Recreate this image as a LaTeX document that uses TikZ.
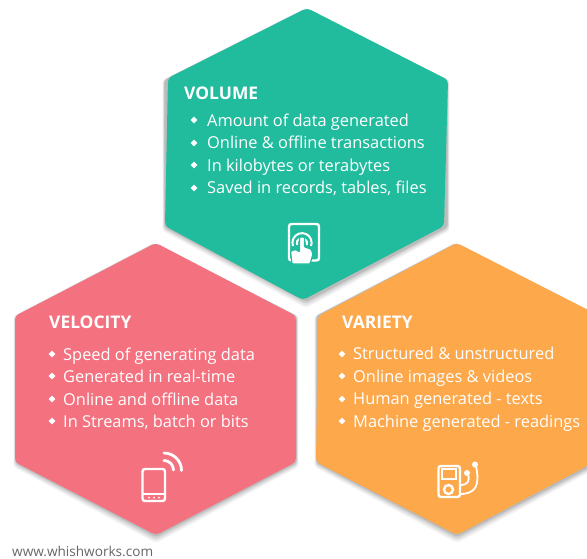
\documentclass[tikz,border=0pt]{standalone}
\usepackage{fontspec}
\setmainfont{Open Sans}
\begin{document}
\begin{tikzpicture}[x=1pt,y=-1pt,
  hexfill/.style={rounded corners=4pt,line width=0pt},
  head/.style={anchor=base west,inner sep=0pt,text=white,font=\fontsize{17.4}{19}\selectfont\bfseries},
  item/.style={anchor=base west,inner sep=0pt,text=white,font=\fontsize{16.4}{18}\selectfont},
  web/.style={anchor=base west,inner sep=0pt,text=black!60,font=\fontsize{13.6}{15}\selectfont},
  bul/.style={fill=white,draw=none},
  ico/.style={draw=white,line width=2.4pt,fill=none},
  icof/.style={fill=white,draw=none}]
\useasboundingbox (0,0) rectangle (587,558);
\fill[white] (0,0) rectangle (587,558);
\newcommand{\hexshadow}[6]{%
  \foreach \d/\o in {8/0.05,6/0.06,4/0.08,2/0.10}{
    \fill[black,opacity=\o,rounded corners=3pt] (#1-\d*0.3,#2) -- (#3+\d*0.3,#4) -- (#3+\d*0.3,#5+\d*0.6) -- (#1,#6+\d) -- (2*#1-#3-\d*0.3,#5+\d*0.6) -- (2*#1-#3-\d*0.3,#4) -- cycle;
  }}
\newcommand{\bl}[2]{\fill[bul] (#1-3.4,#2) -- (#1,#2-3.4) -- (#1+3.4,#2) -- (#1,#2+3.4) -- cycle;}
% shadows
\hexshadow{306}{9}{447}{80}{226}{300}
\hexshadow{156}{243}{296}{316}{462}{535}
\hexshadow{457}{243}{597}{316}{462}{535}
% hexagons
\fill[hexfill,fill={rgb,255:red,244;green,114;blue,128}] (156,243) -- (296,316) -- (296,462) -- (156,535) -- (15,462) -- (15,316) -- cycle;
\fill[hexfill,fill={rgb,255:red,252;green,168;blue,75}] (457,243) -- (600,316) -- (600,456) -- (587,466) -- (457,535) -- (316,462) -- (318,316) -- cycle;
\fill[hexfill,fill={rgb,255:red,33;green,188;blue,158}] (307,8) -- (448,80) -- (444,226) -- (303,300) -- (165,226) -- (168,78) -- cycle;
% volume
\node[head] (volh) at (184,99) {VOLUME};
\node[item] (v1) at (207,126) {Amount of data generated};
\node[item] (v2) at (207,148.5) {Online \& offline transactions};
\node[item] (v3) at (207,171) {In kilobytes or terabytes};
\node[item] (v4) at (207,193.5) {Saved in records, tables, files};
\bl{194}{120}\bl{194}{143}\bl{194}{165}\bl{194}{188}
% velocity
\node[head] (velh) at (49,328) {VELOCITY};
\node[item] (a1) at (63,360) {Speed of generating data};
\node[item] (a2) at (63,382.5) {Generated in real-time};
\node[item] (a3) at (63,405) {Online and offline data};
\node[item] (a4) at (63,427.5) {In Streams, batch or bits};
\bl{52}{354}\bl{52}{376}\bl{52}{399}\bl{52}{421}
% variety
\node[head] (varh) at (342,328) {VARIETY};
\node[item] (b1) at (353,359.5) {Structured \& unstructured};
\node[item] (b2) at (353,382) {Online images \& videos};
\node[item] (b3) at (353,404.5) {Human generated - texts};
\node[item] (b4) at (353,427) {Machine generated - readings};
\bl{342}{354}\bl{342}{376}\bl{342}{399}\bl{342}{421}
% footer
\node[web] (web) at (12,556) {www.whishworks.com};
% touch icon
\draw[ico,rounded corners=2.5pt] (289,224) -- (319,224) -- (319,260.5) -- (289,260.5) -- cycle;
\draw[ico,line width=2pt] (297,245) arc (160:380:5.2);
\draw[ico,line width=2pt] (293,246) arc (160:380:9.6);
\fill[icof,draw={rgb,255:red,33;green,188;blue,158},line width=1.2pt,rounded corners=1pt] (292,264) -- (290.5,251) -- (296,249.5) -- (299.5,252) -- (299.5,237) -- (304.5,237) -- (304.5,247) -- (311,249) -- (313,254) -- (310,264) -- cycle;
% phone icon
\draw[ico,rounded corners=2.5pt] (142.5,469) -- (165,469) -- (165,501) -- (142.5,501) -- cycle;
\draw[white,line width=1.8pt] (143,494) -- (165,494);
\fill[white] (149,497.5) circle (1) (154,497.5) circle (1) (159,497.5) circle (1);
\draw[ico,line width=2.8pt,line cap=round] (164,460.5) arc (-90:0:9.5);
\draw[ico,line width=2.8pt,line cap=round] (164,453) arc (-90:0:17.5);
% player icon
\draw[ico,rounded corners=2.5pt] (438.5,466) -- (460,466) -- (460,497) -- (438.5,497) -- cycle;
\draw[ico,line width=1.8pt] (442,469) rectangle (456,479);
\draw[ico,line width=2.4pt] (448.5,489.5) circle (4.5);
\draw[ico,line width=1.8pt] (460,485) .. controls (468,485) and (470,481) .. (468,474);
\draw[ico,line width=1.8pt] (460,494) .. controls (476,494) and (480,485) .. (476,466);
\fill[icof] (467,473) circle (3) (475,464.5) circle (3);
\end{tikzpicture}
\end{document}
